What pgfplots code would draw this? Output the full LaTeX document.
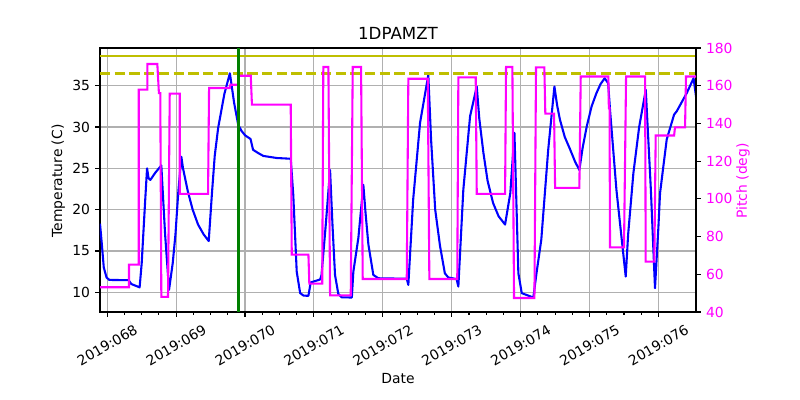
\documentclass[border=0pt]{standalone}
\usepackage{fontspec}
\setmainfont{DejaVu Sans}
\usepackage{pgfplots}
\pgfplotsset{compat=1.18}
\definecolor{mplblue}{rgb}{0,0,1}
\definecolor{mplmag}{rgb}{1,0,1}
\definecolor{mplolive}{rgb}{0.75,0.75,0}
\definecolor{mplgreen}{rgb}{0,0.5,0}
\definecolor{gridgray}{HTML}{B0B0B0}
\pgfplotsset{
  mybase/.style={
    scale only axis, width=429.12pt, height=190.08pt,
    at={(72pt,63.36pt)}, anchor=south west,
    xmin=67.895, xmax=76.545,
    tick align=outside,
    major tick length=3.5pt, minor tick length=2pt,
    every tick/.style={black, line width=0.8pt},
    axis line style={line width=0.8pt},
    tick label style={font=\fontsize{10}{12}\selectfont},
    /pgf/number format/assume math mode=true,
  }
}
\begin{document}
\begin{tikzpicture}
\path[use as bounding box] (0,0) rectangle (576pt,288pt);
\begin{axis}[mybase,
  ymin=7.62, ymax=39.56,
  xtick={68,69,70,71,72,73,74,75,76},
  xticklabels={2019:068,2019:069,2019:070,2019:071,2019:072,2019:073,2019:074,2019:075,2019:076},
  minor x tick num=3,
  ytick={10,15,20,25,30,35},
  xtick pos=lower, ytick pos=lower,
  grid=major,
  major grid style={gridgray, line width=0.8pt},
  xticklabel style={yshift=-20.3pt, rotate=30, anchor=center},
  yticklabel style={anchor=east, inner sep=0pt, xshift=-3.5pt},
]
\addplot[mplblue, line width=1.5pt, line join=round] coordinates {
(67.895,18.3) (67.92,16.0) (67.95,13.0) (67.99,11.8) (68.03,11.5) (68.31,11.47)
(68.35,11.0) (68.47,10.6) (68.50,13.5) (68.55,21.0) (68.578,25.0) (68.60,23.8)
(68.626,23.6) (68.70,24.5) (68.785,25.35) (68.84,17.0) (68.897,10.3) (68.95,13.5)
(68.99,17.0) (69.03,22.0) (69.076,26.4) (69.10,25.0) (69.17,22.2) (69.24,20.0)
(69.318,18.2) (69.40,17.0) (69.473,16.2) (69.52,22.0) (69.56,26.5) (69.61,29.9)
(69.70,34.0) (69.78,36.5) (69.84,33.0) (69.90,30.3) (69.947,29.55) (70.00,29.0)
(70.08,28.55) (70.116,27.25) (70.19,26.85) (70.266,26.5) (70.46,26.25) (70.663,26.16)
(70.70,21.8) (70.75,12.5) (70.80,9.9) (70.85,9.6) (70.92,9.58) (70.953,11.2)
(71.09,11.55) (71.11,12.1) (71.17,18.0) (71.234,24.8) (71.27,18.0) (71.306,12.1)
(71.354,9.8) (71.40,9.4) (71.55,9.37) (71.572,12.5) (71.645,16.6) (71.717,23.0)
(71.75,19.5) (71.79,15.8) (71.862,12.1) (71.935,11.7) (72.347,11.64) (72.37,10.9)
(72.44,21.2) (72.54,30.5) (72.66,36.3) (72.70,28.5) (72.76,20.0) (72.83,15.6)
(72.9,12.3) (72.95,11.8) (73.07,11.6) (73.096,10.7) (73.168,22.4) (73.266,31.3)
(73.363,34.9) (73.40,31.0) (73.46,26.85) (73.52,23.5) (73.6,20.8) (73.68,19.2)
(73.774,18.2) (73.85,22.0) (73.91,29.3) (73.967,12.3) (74.016,9.9) (74.184,9.37)
(74.23,12.3) (74.3,16.4) (74.4,27.25) (74.49,34.9) (74.53,32.6) (74.57,30.9)
(74.64,28.8) (74.72,27.25) (74.79,25.8) (74.852,24.8) (74.90,27.5) (74.96,30.1)
(75.03,32.5) (75.1,34.1) (75.16,35.2) (75.22,35.9) (75.27,35.3) (75.297,32.1)
(75.39,22.4) (75.525,11.9) (75.56,17.0) (75.636,24.4) (75.72,30.0) (75.816,34.5)
(75.89,22.4) (75.95,10.5) (76.0,18.0) (76.023,22.0) (76.12,28.5) (76.227,31.5)
(76.265,31.9) (76.41,34.1) (76.51,35.9) (76.545,33.7)
};
\addplot[mplolive, line width=2pt] coordinates {(67.895,38.6) (76.545,38.6)};
\addplot[mplolive, line width=2pt, dash pattern=on 7.4pt off 3.2pt] coordinates {(67.895,36.5) (76.545,36.5)};
\end{axis}
\begin{axis}[mybase,
  ymin=40, ymax=180,
  axis x line=none, axis y line*=right,
  ytick={40,60,80,100,120,140,160,180},
  ytick pos=upper,
  yticklabel style={anchor=west, inner sep=0pt, xshift=3.5pt, text=mplmag},
]
\addplot[mplmag, line width=1.5pt] coordinates {
(67.895,53.1) (68.316,53.1) (68.316,65.1) (68.457,65.1) (68.457,157.9) (68.582,157.9)
(68.582,171.5) (68.727,171.5) (68.75,156.1) (68.77,156.1) (68.785,48) (68.882,48)
(68.907,155.8) (69.052,155.8) (69.052,102.6) (69.463,102.6) (69.478,158.8) (69.778,158.8)
(69.787,160.5) (69.90,160.5) (69.908,165.3) (70.083,165.3) (70.10,150) (70.663,150)
(70.678,70.4) (70.92,70.4) (70.933,55) (71.12,55) (71.136,169.9) (71.21,169.9)
(71.234,48.8) (71.534,48.8) (71.563,169.9) (71.684,169.9) (71.708,57.5) (72.347,57.5)
(72.37,163.7) (72.652,163.7) (72.675,57.5) (73.08,57.5) (73.096,164.4) (73.348,164.4)
(73.363,102.6) (73.774,102.6) (73.788,169.9) (73.88,169.9) (73.904,47.4) (74.2,47.4)
(74.223,169.7) (74.344,169.7) (74.358,145.2) (74.485,145.2) (74.5,105.8) (74.852,105.8)
(74.872,164.9) (75.273,164.9) (75.28,148.2) (75.29,148.2) (75.297,74.3) (75.5,74.3)
(75.53,164.9) (75.806,164.9) (75.815,66.7) (75.94,66.7) (75.96,133.6) (76.227,133.6)
(76.24,137.9) (76.386,137.9) (76.4,164.9) (76.545,164.9)
};
\addplot[mplgreen, line width=2pt] coordinates {(69.90,40) (69.90,180)};
\end{axis}
\node[font=\fontsize{12}{14}\selectfont] at (286.56pt,264pt) {1DPAMZT};
\node[font=\fontsize{10}{12}\selectfont] at (286.56pt,15.1pt) {Date};
\node[font=\fontsize{10}{12}\selectfont, rotate=90] at (42pt,157.7pt) {Temperature (C)};
\node[font=\fontsize{10}{12}\selectfont, rotate=90, text=mplmag] at (535pt,157.7pt) {Pitch (deg)};
\end{tikzpicture}
\end{document}
